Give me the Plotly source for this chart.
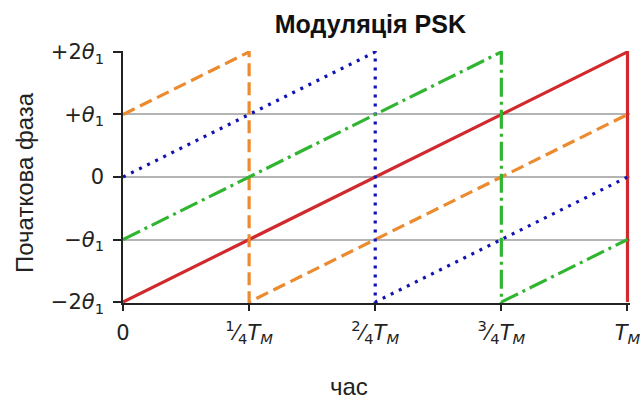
import plotly.graph_objects as go

# Data (time in units of T_M, phase in units of theta_1)
red_t = [0, 1, 1]
red_phase = [-2, 2, -2]
orange_t = [0, 0.25, 0.25, 1]
orange_phase = [1, 2, -2, 1]
blue_t = [0, 0.5, 0.5, 1]
blue_phase = [0, 2, -2, 0]
green_t = [0, 0.75, 0.75, 1]
green_phase = [-1, 2, -2, -1]

x_tickvals = [0, 0.25, 0.5, 0.75, 1]
x_ticktext = ["0",
              "<sup>1</sup>⁄<sub>4</sub><i>T<sub>M</sub></i>",
              "<sup>2</sup>⁄<sub>4</sub><i>T<sub>M</sub></i>",
              "<sup>3</sup>⁄<sub>4</sub><i>T<sub>M</sub></i>",
              "<i>T<sub>M</sub></i>"]
y_tickvals = [-2, -1, 0, 1, 2]
y_ticktext = ["−2<i>θ</i><sub>1</sub>", "−<i>θ</i><sub>1</sub>", "0",
              "+<i>θ</i><sub>1</sub>", "+2<i>θ</i><sub>1</sub>"]

fig = go.Figure()
fig.add_trace(go.Scatter(x=red_t, y=red_phase, mode="lines",
                         line=dict(color="#d02a2f", width=3.2)))
fig.add_trace(go.Scatter(x=orange_t, y=orange_phase, mode="lines",
                         line=dict(color="#ec8a2e", width=3.2, dash="13px,6px")))
fig.add_trace(go.Scatter(x=blue_t, y=blue_phase, mode="lines",
                         line=dict(color="#1212b4", width=3.2, dash="3px,6px")))
fig.add_trace(go.Scatter(x=green_t, y=green_phase, mode="lines",
                         line=dict(color="#30b530", width=3.2, dash="19px,5px,3px,5px")))

fig.update_layout(
    width=643, height=401,
    margin=dict(l=123, r=13, t=51, b=98, autoexpand=False),
    paper_bgcolor="white", plot_bgcolor="white",
    showlegend=False,
    title=dict(text="<b>Модуляція PSK</b>", x=0.576, xanchor="center",
               y=0.94, yanchor="middle",
               font=dict(family="Liberation Sans, Arial", size=25, color="#111")),
    font=dict(family="DejaVu Sans", size=21, color="#222"),
    annotations=[
        dict(text="Початкова фаза", xref="paper", yref="paper", x=0, y=0.5,
             xanchor="center", yanchor="middle", xshift=-99, yshift=-6,
             textangle=-90, showarrow=False,
             font=dict(family="Liberation Sans, Arial", size=24, color="#222")),
        dict(text="час", xref="paper", yref="paper", x=0.5, y=0,
             xanchor="center", yanchor="middle", xshift=-28, yshift=-83,
             showarrow=False,
             font=dict(family="Liberation Sans, Arial", size=24, color="#222")),
    ],
)
fig.update_xaxes(
    automargin=False,
    range=[0, 1.005], tickvals=x_tickvals, ticktext=x_ticktext,
    showgrid=False, zeroline=False,
    showline=True, linecolor="#222", linewidth=1.5,
    ticks="outside", ticklen=6, tickwidth=1.5, tickcolor="#222",
    ticklabelstandoff=4,
    tickfont=dict(family="DejaVu Sans", size=21, color="#222"),
)
fig.update_yaxes(
    automargin=False,
    range=[-2.015, 2.015], tickvals=y_tickvals, ticktext=y_ticktext,
    showgrid=True, gridcolor="#b4b4b4", gridwidth=1.5, zeroline=False,
    showline=True, linecolor="#222", linewidth=1.5,
    ticks="outside", ticklen=8, tickwidth=1.5, tickcolor="#222",
    ticklabelstandoff=5,
    tickfont=dict(family="DejaVu Sans", size=21, color="#222"),
)

fig.write_html("out.html", config={"displayModeBar": False},
               post_script="document.body.style.margin='0px';")
